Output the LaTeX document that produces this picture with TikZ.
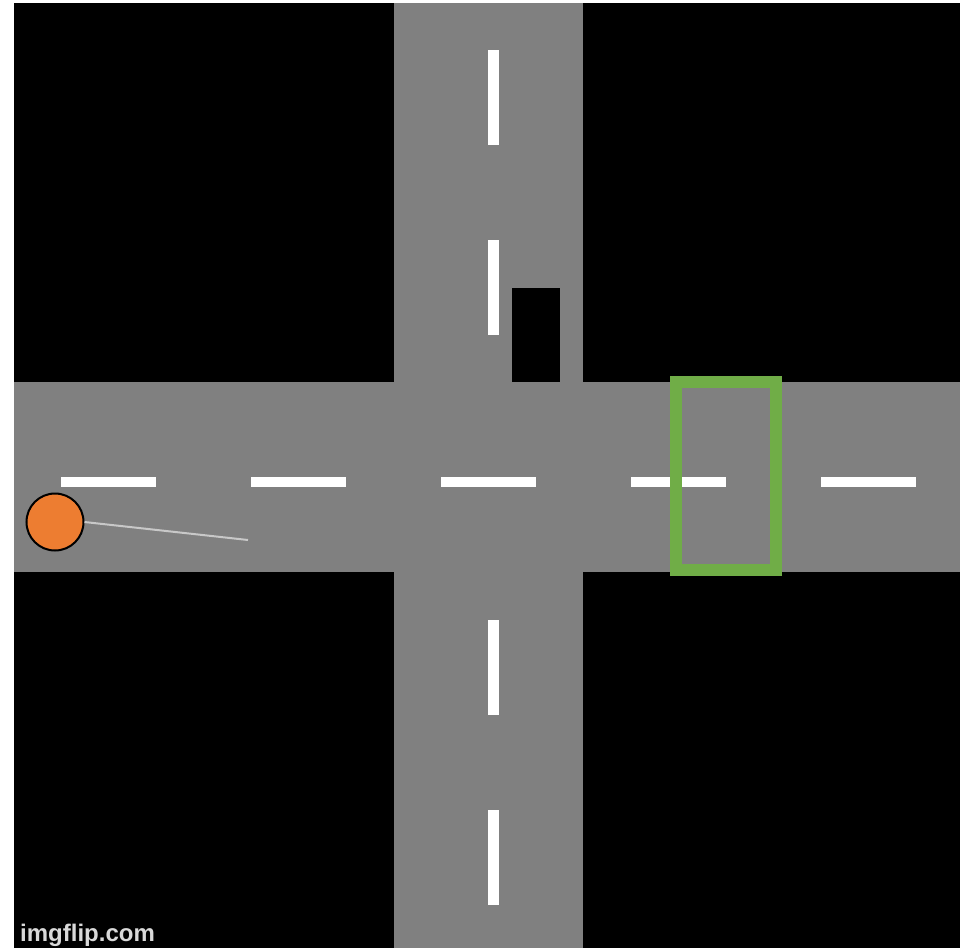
\documentclass[tikz,border=0pt]{standalone}
\usepackage{fontspec}
\newfontfamily\wmfont{Liberation Sans}
\usepackage{xcolor}
\usetikzlibrary{positioning}

\definecolor{roadgray}{HTML}{808080}
\definecolor{boxgreen}{HTML}{70AD47}
\definecolor{ballorange}{HTML}{ED7D31}
\definecolor{trailgray}{HTML}{C8C8C8}

\begin{document}
\begin{tikzpicture}[
  x=1pt, y=-1pt,
  road/.style={fill=roadgray, draw=none},
  hdash/.style={fill=white, draw=none},
  car/.style={fill=black, draw=none},
  goal/.style={draw=boxgreen, line width=12pt},
  ball/.style={circle, draw=black, line width=2pt, fill=ballorange, minimum size=57pt, inner sep=0pt},
  trail/.style={draw=trailgray, line width=2pt}
]
\useasboundingbox (0,0) rectangle (960,948);
% background and roads
\fill[black] (14,3) rectangle (960,948);
\path[road] (14,382) rectangle (960,572);
\path[road] (394,3) rectangle (583,948);
% lane markings
\foreach \x in {61,251,441,631,821}
  \path[hdash] (\x,477) rectangle (\x+95,487);
\foreach \y in {50,240,620,810}
  \path[hdash] (488,\y) rectangle (499,\y+95);
% parked car
\path[car] (512,288) rectangle (560,382);
% target zone
\draw[goal] (675.5,382) rectangle (776,569.5);
% agent and its trail
\node[ball] (agent) at (55,522) {};
\coordinate (trailend) at (248,540);
\draw[trail] (agent.east) -- (trailend);
% watermark
\node[anchor=base west, inner sep=0pt, text=white!85!black, font=\wmfont\bfseries\fontsize{24}{24}\selectfont] (mark) at (20,941) {imgflip.com};
\end{tikzpicture}
\end{document}
